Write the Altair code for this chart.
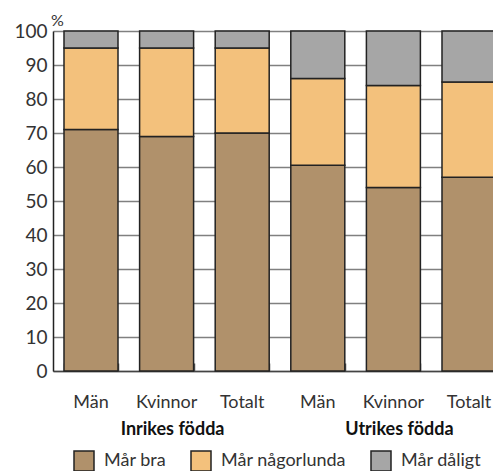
import altair as alt
import pandas as pd

groups = ["Inrikes födda", "Utrikes födda"]
subgroups = ["Män", "Kvinnor", "Totalt"]
categories = ["Mår bra", "Mår någorlunda", "Mår dåligt"]
colors = ["#B0916B", "#F3C17C", "#A6A6A6"]

mar_bra = [71, 69, 70, 60.5, 54, 57]
mar_nagorlunda = [24, 26, 25, 25.5, 30, 28]
mar_daligt = [5, 5, 5, 14, 16, 15]

keys = [f"{g}|{s}" for g in groups for s in subgroups]
series = [mar_bra, mar_nagorlunda, mar_daligt]

rows = []
for ci, (cat, vals) in enumerate(zip(categories, series)):
    for k, v in zip(keys, vals):
        rows.append({"key": k, "cat": cat, "ord": ci, "value": v})
df = pd.DataFrame(rows)

gdf = pd.DataFrame({"key": [f"{g}|Kvinnor" for g in groups], "label": groups})

FONT = "Lato"
FS = 18
xscale = alt.Scale(domain=keys, range=[0, 454], paddingInner=0.2857, paddingOuter=0.1455)

bars = alt.Chart(df).mark_bar(stroke="#222222", strokeWidth=1.5).encode(
    x=alt.X("key:N", scale=xscale, sort=keys,
            axis=alt.Axis(title=None, labelExpr="split(datum.value,'|')[1]", labelAngle=0,
                          ticks=False, tickSize=0, domain=True, domainColor="#444444",
                          domainWidth=1.5, labelFont=FONT, labelFontSize=FS, labelColor="#333333",
                          labelBaseline="alphabetic", labelPadding=36, grid=False)),
    y=alt.Y("value:Q", stack="zero", scale=alt.Scale(domain=[0, 100], nice=False),
            axis=alt.Axis(values=list(range(0, 101, 10)), title="%", titleAngle=0, titleX=4,
                          titleY=-6, titleAlign="center", titleBaseline="alphabetic",
                          titleFontWeight="normal", titleFont=FONT, titleFontSize=16,
                          titleColor="#333333", grid=True, gridColor="#808080", gridWidth=1.5,
                          ticks=False, tickSize=0, domainColor="#222222", domainWidth=1.5,
                          labelPadding=6, labelFont=FONT, labelFontSize=19, labelColor="#333333")),
    color=alt.Color("cat:N", scale=alt.Scale(domain=categories, range=colors),
                    legend=alt.Legend(orient="none", legendX=20, legendY=419, direction="horizontal",
                                      title=None, symbolType="square", symbolSize=400,
                                      symbolStrokeWidth=1.5, symbolStrokeColor="#222222",
                                      labelFont=FONT, labelFontSize=FS, labelColor="#333333",
                                      columnPadding=22, labelOffset=9, padding=0)),
    order=alt.Order("ord:Q"),
)

text = alt.Chart(gdf).mark_text(font=FONT, fontSize=FS, fontWeight="bold", color="#111111",
                                baseline="alphabetic", dx=6).encode(
    x=alt.X("key:N", scale=xscale, sort=keys,
            axis=alt.Axis(orient="top", offset=-340, labels=False, domain=False, ticks=True,
                          tickBand="extent", tickSize=8, tickColor="#555555", tickWidth=1.5,
                          grid=False, title=None)),
    y=alt.value(404),
    text="label:N",
)

chart = alt.layer(bars, text).resolve_axis(x="independent").properties(
    width=440, height=340,
    padding={"left": 45, "top": 23, "right": 0, "bottom": 100},
    autosize=alt.AutoSizeParams(type="none"),
).configure_view(stroke=None)

chart.save("out.html", embed_options={"renderer": "svg", "actions": False})
